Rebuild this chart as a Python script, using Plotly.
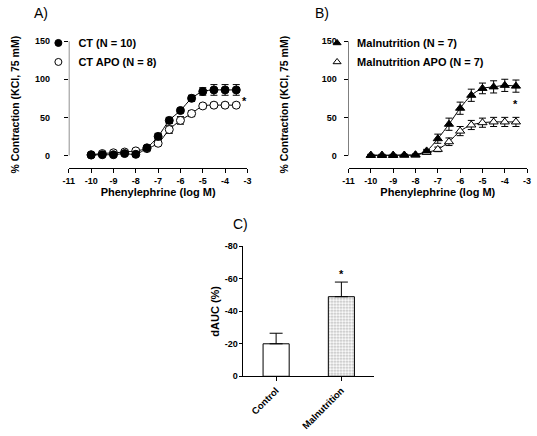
import plotly.graph_objects as go

# ---------------- data ----------------
log_conc = [-10, -9.5, -9, -8.5, -8, -7.5, -7, -6.5, -6, -5.5, -5, -4.5, -4, -3.5]

ct_mean = [0.5, 1, 1, 2.5, 1.5, 10, 25, 46, 59, 75, 84, 86, 86, 86]
ct_err = [1, 1, 1, 1.5, 2, 2, 4, 4, 3, 4, 5, 7, 7, 7]
ctapo_mean = [1, 2.5, 3.5, 4.5, 6, 9, 16, 34, 46, 55, 65, 66, 66, 66]
ctapo_err = [1, 1, 1, 1, 2, 3, 3, 5, 5, 4, 3, 3, 3, 3]

mal_mean = [0, 0, 0, 0.5, 1, 6, 22, 41, 62, 79, 88, 90, 92, 91]
mal_err = [1, 1, 1, 1, 1, 2, 6, 8, 8, 8, 7, 8, 8, 8]
malapo_mean = [0.5, 0.5, 0.5, 0.5, 0.5, 4, 8, 18, 32, 40, 43, 44, 44, 44]
malapo_err = [1, 1, 1, 1, 1, 2, 3, 5, 6, 6, 6, 6, 6, 6]

x_ticks = [-11, -10, -9, -8, -7, -6, -5, -4, -3]
x_ticktext = ["-11", "-10", "-9", "-8", "-7", "-6", "-5", "-4", "-3"]
y_ticks = [0, 50, 100, 150]

bar_groups = ["Control", "Malnutrition"]
bar_mean = [-20, -49]
bar_err = [6.5, 9]
c_ticks = [0, -20, -40, -60, -80]
c_ticktext = ["0", "-20", "-40", "-60", "-80"]

W, H = 537, 436
FONT = "Liberation Sans"


def px_x(p):
    return p / W


def px_y(p):
    return 1 - p / H


fig = go.Figure()


def curve(x, y, err, sym, fill, xa, ya, name, leg):
    fig.add_trace(go.Scatter(
        x=x, y=y, mode="lines+markers", xaxis=xa, yaxis=ya,
        line=dict(color="black", width=1, shape="spline", smoothing=0.8),
        marker=dict(symbol=sym, size=8, color=fill, line=dict(color="black", width=1)),
        error_y=dict(type="data", array=err, symmetric=True, color="black",
                     thickness=1, width=3.5),
        showlegend=False, cliponaxis=False))
    fig.add_trace(go.Scatter(
        x=[None], y=[None], mode="markers", xaxis=xa, yaxis=ya,
        marker=dict(symbol=sym, size=7, color=fill, line=dict(color="black", width=1)),
        name=name, legend=leg, showlegend=True))


curve(log_conc, ctapo_mean, ctapo_err, "circle", "white", "x", "y", "CT APO (N = 8)", "legend")
curve(log_conc, ct_mean, ct_err, "circle", "black", "x", "y", "CT (N = 10)", "legend")
curve(log_conc, malapo_mean, malapo_err, "triangle-up", "white", "x2", "y2", "Malnutrition APO (N = 7)", "legend2")
curve(log_conc, mal_mean, mal_err, "triangle-up", "black", "x2", "y2", "Malnutrition (N = 7)", "legend2")

fig.add_trace(go.Bar(
    x=bar_groups, y=bar_mean, xaxis="x3", yaxis="y3", width=0.4,
    marker=dict(color="white", line=dict(color="black", width=1),
                pattern=dict(shape=["", "."], fgcolor="#555555", bgcolor="white",
                             size=3, solidity=0.35)),
    error_y=dict(type="data", array=[0, 0], arrayminus=bar_err, symmetric=False,
                 color="black", thickness=1, width=6.5),
    showlegend=False))

tickfont = dict(family=FONT, size=9, color="black", weight="bold")
titlefont = dict(family=FONT, size=11, color="black", weight="bold")
ytitlefont = dict(family=FONT, size=10.5, color="black", weight="bold")

yr = [-(167 - 154) * 150 / 117, 150]

common_x = dict(range=[-11, -3], tickvals=x_ticks, ticktext=x_ticktext, showline=True,
                linecolor="black", linewidth=1, ticks="outside", ticklen=4, tickwidth=1,
                tickcolor="black", showgrid=False, zeroline=False, tickfont=tickfont,
                title=dict(text="Phenylephrine (log M)", font=titlefont, standoff=1))
common_y = dict(range=yr, tickvals=y_ticks, showline=False, ticks="outside", ticklen=4,
                tickwidth=1, tickcolor="black", showgrid=False, zeroline=False,
                tickfont=tickfont)

fig.update_layout(
    width=W, height=H, margin=dict(l=0, r=0, t=0, b=0),
    paper_bgcolor="white", plot_bgcolor="white",
    xaxis=dict(domain=[px_x(64), px_x(246)], anchor="y", **common_x),
    yaxis=dict(domain=[px_y(167), px_y(37)], anchor="x", ticklabelstandoff=12,
               title=dict(text="% Contraction (KCl, 75 mM)", font=ytitlefont, standoff=13),
               **common_y),
    xaxis2=dict(domain=[px_x(349), px_x(531)], anchor="y2", **common_x),
    yaxis2=dict(domain=[px_y(167), px_y(37)], anchor="x2", ticklabelstandoff=5,
                title=dict(text="% Contraction (KCl, 75 mM)", font=ytitlefont, standoff=30),
                **common_y),
    xaxis3=dict(domain=[px_x(242), px_x(375)], anchor="y3", range=[-0.5, 1.5],
                showline=True, linecolor="black", linewidth=1, ticks="outside", ticklen=4,
                tickcolor="black", showgrid=False, zeroline=False, tickangle=-45,
                tickfont=dict(family=FONT, size=9.5, color="black", weight="bold")),
    yaxis3=dict(domain=[px_y(380), px_y(247)], anchor="x3", range=[0, -80],
                tickvals=c_ticks, ticktext=c_ticktext, showline=True, linecolor="black",
                linewidth=1, ticks="outside", ticklen=3, tickcolor="black", showgrid=False,
                zeroline=False, tickfont=tickfont,
                title=dict(text="dAUC (%)", font=titlefont, standoff=2)),
    legend=dict(x=px_x(33), y=px_y(24), xanchor="left", yanchor="top",
                font=dict(family=FONT, size=11, color="black", weight="bold"),
                bgcolor="rgba(0,0,0,0)", traceorder="reversed", tracegroupgap=0),
    legend2=dict(x=px_x(317), y=px_y(24), xanchor="left", yanchor="top",
                 font=dict(family=FONT, size=11, color="black", weight="bold"),
                 bgcolor="rgba(0,0,0,0)", traceorder="reversed", tracegroupgap=0),
)

# y-axis lines spanning 0..150 only (Prism style)
for xr, yr_ in (("x", "y"), ("x2", "y2")):
    fig.add_shape(type="line", xref=xr, yref=yr_, x0=-11, x1=-11, y0=0, y1=150,
                  line=dict(color="black", width=1))

ann_font = dict(family=FONT, size=14, color="black")
fig.add_annotation(text="A)", xref="paper", yref="paper", x=px_x(27), y=px_y(8),
                   xanchor="left", yanchor="middle", showarrow=False, font=ann_font)
fig.add_annotation(text="B)", xref="paper", yref="paper", x=px_x(313), y=px_y(8),
                   xanchor="left", yanchor="middle", showarrow=False, font=ann_font)
fig.add_annotation(text="C)", xref="paper", yref="paper", x=px_x(229), y=px_y(224),
                   xanchor="left", yanchor="middle", showarrow=False, font=ann_font)

star = dict(family=FONT, size=11, color="black", weight="bold")
fig.add_annotation(text="*", xref="x", yref="y", x=-3.13, y=72, showarrow=False, font=star)
fig.add_annotation(text="*", xref="x2", yref="y2", x=-3.5, y=68, showarrow=False, font=star)
fig.add_annotation(text="*", xref="x3", yref="y3", x="Malnutrition", y=-63,
                   showarrow=False, font=star)

fig.write_html("out.html", config={"displayModeBar": False},
               post_script="document.body.style.margin='0px';")
